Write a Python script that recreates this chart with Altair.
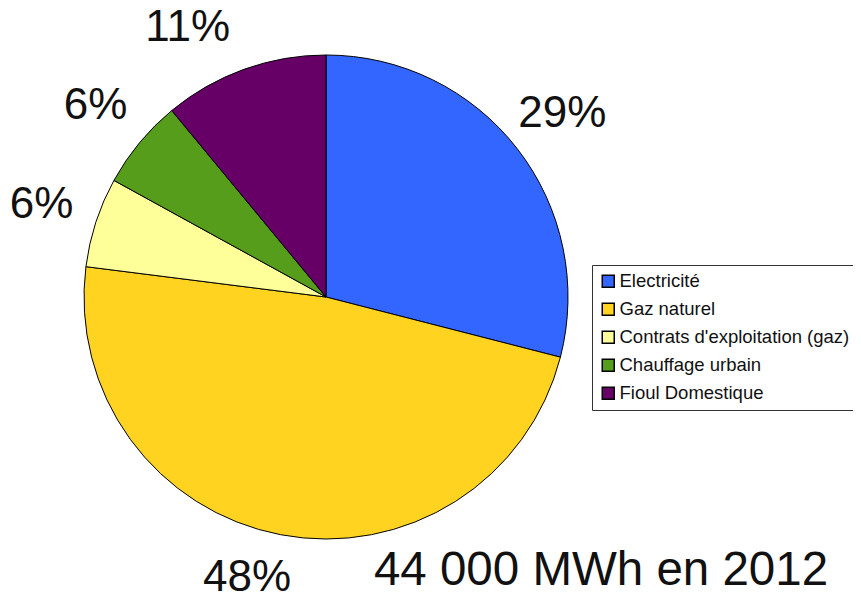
import altair as alt
import pandas as pd

categories = ["Electricité", "Gaz naturel", "Contrats d'exploitation (gaz)", "Chauffage urbain", "Fioul Domestique"]
values = [29, 48, 6, 6, 11]
labels = ["29%", "48%", "6%", "6%", "11%"]
colors = ["#3366FF", "#FFD320", "#FFFF99", "#579D1C", "#660066"]
subtitle = "44 000 MWh en 2012"

df = pd.DataFrame({"cat": categories, "val": values, "lab": labels, "ord": list(range(len(categories)))})
total = float(sum(values))

cx, cy = 318, 289

arcs = alt.Chart(df).mark_arc(outerRadius=242, stroke="black", strokeWidth=1).encode(
    theta=alt.Theta("val:Q", stack=True),
    order=alt.Order("ord:Q"),
    x=alt.value(cx), y=alt.value(cy),
    color=alt.Color("cat:N", scale=alt.Scale(domain=categories, range=colors), sort=categories,
                    legend=alt.Legend(title=None, orient="none", legendX=584, legendY=257,
                                      symbolType="square", symbolSize=144, symbolStrokeColor="black",
                                      symbolStrokeWidth=1.5, labelFontSize=18.5, labelFont="Liberation Sans",
                                      labelColor="#111111", rowPadding=9, padding=7, labelOffset=2,
                                      strokeColor="#333333", fillColor="white", cornerRadius=0,
                                      labelLimit=400)),
)

lab_base = alt.Chart(df).transform_window(
    cum="sum(val)", sort=[alt.SortField("ord", order="ascending")]
).transform_calculate(
    mid="datum.cum - datum.val / 2"
).encode(
    theta=alt.Theta("mid:Q", scale=alt.Scale(domain=[0, total]), stack=None),
    x=alt.value(cx), y=alt.value(cy), text="lab:N",
)

text_style = dict(radius=299, fontSize=44, font="Liberation Sans", color="#111111")

texts = lab_base.mark_text(**text_style).transform_filter("datum.ord != 1 && datum.ord != 4")
text_big = lab_base.mark_text(dx=-23, dy=-13, **text_style).transform_filter("datum.ord == 1")
text_top = lab_base.mark_text(dx=-37, dy=12, **text_style).transform_filter("datum.ord == 4")

title = alt.Chart(pd.DataFrame({"t": [subtitle]})).mark_text(
    fontSize=47.5, font="Liberation Sans", color="#111111", align="center", baseline="middle"
).encode(x=alt.value(593), y=alt.value(563), text="t:N")

chart = alt.layer(arcs, texts, text_big, text_top, title).resolve_scale(theta="independent").properties(
    width=845, height=594, autosize=alt.AutoSizeParams(type="none"), padding=0
).configure_view(stroke=None)

chart.save("out.html", embed_options={"renderer": "svg", "actions": False})
